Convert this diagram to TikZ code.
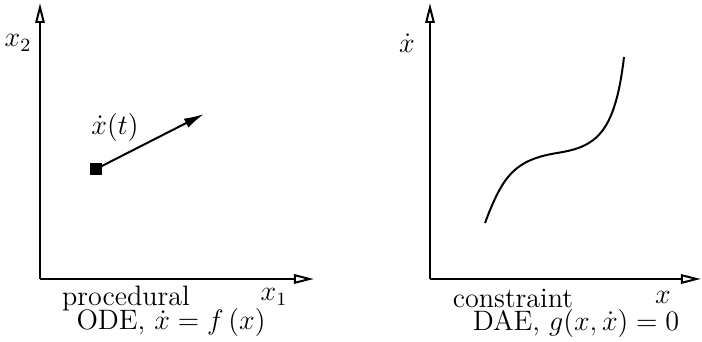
\documentclass[tikz,border=0pt]{standalone}
\usepackage{amsmath}
\usetikzlibrary{arrows.meta,positioning}
\tikzset{
  axis/.style={line width=.85pt,-{Triangle[open,length=.3cm,width=.14cm]}},
  vec/.style={line width=.85pt,-{Latex[length=.3cm,width=.15cm]}},
  lbl/.style={font=\large,inner sep=0pt}
}
\begin{document}
\begin{tikzpicture}[x=.015cm,y=-.015cm]
    \useasboundingbox (0,0) rectangle (702,342);
    % ODE
    \coordinate (o1) at (40,279);
    \coordinate (y1) at (40,3);
    \coordinate (x1) at (314,279);
    \draw[axis] (o1) -- (y1);
    \draw[axis] (o1) -- (x1);
    \node[lbl] (x2lbl) at (18,43) {$x_2$};
    \node[lbl] (x1lbl) at (274,297) {$x_1$};
    \node[fill,minimum size=.19cm,inner sep=0pt] (sq) at (96,169) {};
    \coordinate (tip) at (204,114);
    \draw[vec] (sq.center) -- (tip);
    \node[lbl] (xt) at (115,127) {$\dot{x}(t)$};
    \node[lbl] (proc) at (126,298) {procedural};
    \node[lbl] (ode) at (171,322) {ODE, $\dot{x}=f\,(x)$};
    % DAE
    \coordinate (o2) at (430,279);
    \coordinate (y2) at (430,3);
    \coordinate (x2) at (701,279);
    \draw[axis] (o2) -- (y2);
    \draw[axis] (o2) -- (x2);
    \node[lbl] (xdlbl) at (407,43) {$\dot{x}$};
    \node[lbl] (xlbl) at (663,297) {$x$};
    \draw[line width=.85pt] (485,223) .. controls (503,175) and (515,160) .. (557,153)
      .. controls (595,147) and (615,135) .. (624,57);
    \node[lbl] (cons) at (513,298) {constraint};
    \node[lbl] (dae) at (576,323) {DAE, $g(x,\dot{x})=0$};
\end{tikzpicture}
\end{document}
